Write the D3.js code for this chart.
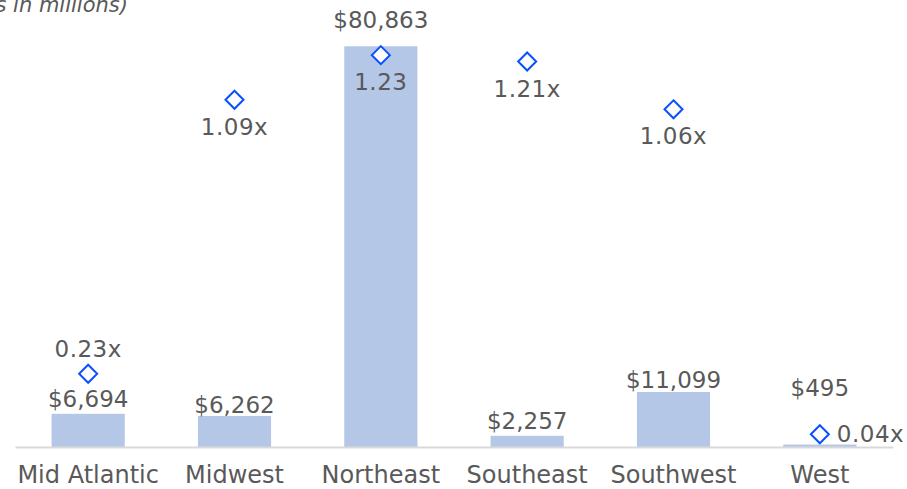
<!DOCTYPE html>
<html>
<head>
<meta charset="utf-8">
<script src="https://cdn.jsdelivr.net/npm/d3@7"></script>
<style>
  body { margin: 0; background: #fff; }
  text { font-family: "DejaVu Sans", sans-serif; fill: #595959; }
</style>
</head>
<body>
<div class="chart"></div>
<script>
// chart data
var regions = ["Mid Atlantic", "Midwest", "Northeast", "Southeast", "Southwest", "West"];
var amounts = [6694, 6262, 80863, 2257, 11099, 495];
var multiples = [0.23, 1.09, 1.23, 1.21, 1.06, 0.04];
var multipleLabels = ["0.23x", "1.09x", "1.23", "1.21x", "1.06x", "0.04x"];
// where each multiple label sits relative to its marker
var multiplePlacement = ["above", "below", "below", "below", "below", "right"];
var amountOffsets = [15, 11, 26, 15, 12, 57];

function init() {
    var w = 907;
    var h = 489;

    var svg = d3.select(".chart")
        .append("svg")
        .attr("width", w)
        .attr("height", h);

    var xScale = d3.scaleBand()
        .domain(regions)
        .range([15, 893])
        .paddingInner(0.5)
        .paddingOuter(0.25);

    var yScale = d3.scaleLinear()
        .domain([0, 90000])
        .range([447, 1]);

    var y2Scale = d3.scaleLinear()
        .domain([0, 1.4])
        .range([447, 1]);

    var fmt = d3.format(",");

    // bars
    svg.selectAll(".bar")
        .data(amounts)
        .enter().append("rect")
        .attr("class", "bar")
        .attr("x", function(d, i) { return xScale(regions[i]); })
        .attr("y", function(d) { return yScale(d); })
        .attr("width", xScale.bandwidth())
        .attr("height", function(d) { return yScale(0) - yScale(d); })
        .attr("fill", "#b4c7e7");

    // x-axis
    var xAxis = d3.axisBottom(xScale).tickSize(0).tickPadding(19);
    var gx = svg.append("g")
        .attr("transform", "translate(0," + yScale(0) + ")")
        .call(xAxis);
    gx.select(".domain").attr("stroke", "#d9d9d9").attr("stroke-width", 2);
    gx.selectAll("text")
        .style("font-size", "24px")
        .style("font-family", "DejaVu Sans, sans-serif")
        .attr("fill", "#595959");

    // amount labels
    svg.selectAll(".amt")
        .data(amounts)
        .enter().append("text")
        .attr("class", "amt")
        .attr("x", function(d, i) { return xScale(regions[i]) + xScale.bandwidth() / 2; })
        .attr("y", function(d, i) { return yScale(d) - amountOffsets[i]; })
        .attr("dy", "0.35em")
        .attr("text-anchor", "middle")
        .style("font-size", "23px")
        .text(function(d) { return "$" + fmt(d); });

    // multiple markers
    var cx = function(i) { return xScale(regions[i]) + xScale.bandwidth() / 2; };
    svg.selectAll(".dia")
        .data(multiples)
        .enter().append("path")
        .attr("class", "dia")
        .attr("d", "M0,-9L9,0L0,9L-9,0Z")
        .attr("transform", function(d, i) { return "translate(" + cx(i) + "," + y2Scale(d) + ")"; })
        .attr("fill", "#fff")
        .attr("stroke", "#0a50ff")
        .attr("stroke-width", 2);

    svg.selectAll(".mult")
        .data(multiples)
        .enter().append("text")
        .attr("class", "mult")
        .attr("x", function(d, i) {
            return multiplePlacement[i] === "right" ? cx(i) + 17 : cx(i);
        })
        .attr("y", function(d, i) {
            var y = y2Scale(d);
            if (multiplePlacement[i] === "above") return y - 25;
            if (multiplePlacement[i] === "below") return y + 27;
            return y;
        })
        .attr("dy", "0.35em")
        .attr("text-anchor", function(d, i) { return multiplePlacement[i] === "right" ? "start" : "middle"; })
        .style("font-size", "23px")
        .style("letter-spacing", "0.5px")
        .text(function(d, i) { return multipleLabels[i]; });

    // unit note (partly cut off at the left edge, as in the source)
    svg.append("text")
        .attr("x", 128)
        .attr("y", 12)
        .attr("text-anchor", "end")
        .style("font-size", "21px")
        .style("font-style", "italic")
        .text("($s in millions)");
}

window.onload = init;
</script>
</body>
</html>
